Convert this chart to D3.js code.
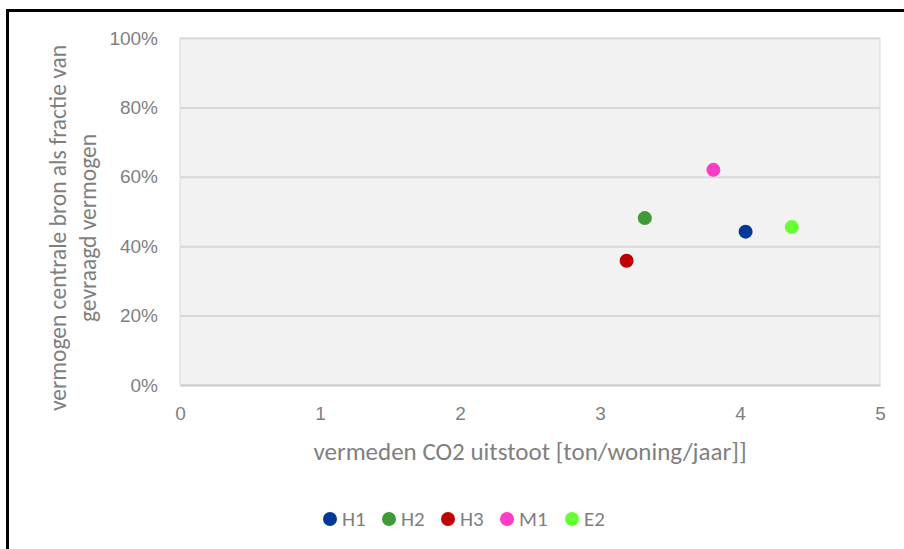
<!DOCTYPE html>
<html>
<head>
<meta charset="utf-8">
<script src="https://cdn.jsdelivr.net/npm/d3@7"></script>
<style>
  body { margin: 0; background: #fff; }
  svg { display: block; font-family: Calibri, Carlito, Lato, sans-serif; }
</style>
</head>
<body>
<div id="container"></div>
<script>
/* DATA */
const names = ["H1", "H2", "H3", "M1", "E2"]
const co2 = [4.04, 3.32, 3.19, 3.81, 4.37]
const fraction = [0.442, 0.481, 0.358, 0.620, 0.455]
const colors = ["#003896", "#3F9A38", "#C00000", "#FF3CC8", "#66FF33"]
const xTicks = [0, 1, 2, 3, 4, 5]
const yTicks = [0, 0.2, 0.4, 0.6, 0.8, 1]

/* CONSTANTS */
const width = 904,
height = 549,
margin = { top: 38, bottom: 164, left: 180, right: 24 },
radius = 7,
textColor = "#7F7F7F";

const data = names.map((d, i) => ({ name: d, x: co2[i], y: fraction[i], color: colors[i] }))

/* SCALES */
const xScale = d3.scaleLinear()
  .domain([0, 5])
  .range([margin.left, width - margin.right])

const yScale = d3.scaleLinear()
  .domain([0, 1])
  .range([height - margin.bottom, margin.top])

/* SVG */
const svg = d3.select("#container")
  .append("svg")
  .attr("width", width)
  .attr("height", height)

// outer frame (only top and left are visible)
svg.append("rect")
  .attr("x", 7.5)
  .attr("y", 10.5)
  .attr("width", 1200)
  .attr("height", 1200)
  .attr("fill", "none")
  .attr("stroke", "#000")
  .attr("stroke-width", 3)

// plot background
svg.append("rect")
  .attr("x", xScale(0))
  .attr("y", yScale(1))
  .attr("width", xScale(5) - xScale(0))
  .attr("height", yScale(0) - yScale(1))
  .attr("fill", "#F2F2F2")
  .attr("stroke", "#D9D9D9")
  .attr("stroke-width", 1)

// gridlines + y axis
const yAxis = d3.axisLeft(yScale)
  .tickValues(yTicks)
  .tickSize(-(xScale(5) - xScale(0)))
  .tickPadding(22)
  .tickFormat(d3.format(".0%"))
const gy = svg.append("g")
  .attr("transform", `translate(${margin.left},0)`)
  .call(yAxis)
gy.select(".domain").remove()
gy.selectAll(".tick line")
  .attr("stroke", "#D9D9D9")
  .attr("stroke-width", 2)
gy.selectAll(".tick text")
  .attr("fill", textColor)
  .style("font-size", "19px")

// x axis
const xAxis = d3.axisBottom(xScale)
  .tickValues(xTicks)
  .tickSize(0)
  .tickPadding(22)
  .tickFormat(d3.format("d"))
const gx = svg.append("g")
  .attr("transform", `translate(0,${height - margin.bottom})`)
  .call(xAxis)
gx.select(".domain")
  .attr("stroke", "#D0D0D0")
  .attr("stroke-width", 2)
gx.selectAll(".tick text")
  .attr("fill", textColor)
  .style("font-size", "19px")

// points
svg.selectAll("circle.pt")
  .data(data)
  .join("circle")
  .attr("class", "pt")
  .attr("cx", d => xScale(d.x))
  .attr("cy", d => yScale(d.y))
  .attr("r", radius)
  .attr("fill", d => d.color)

// axis titles
svg.append("text")
  .attr("x", (xScale(0) + xScale(5)) / 2)
  .attr("y", 460)
  .attr("text-anchor", "middle")
  .attr("fill", textColor)
  .style("font-size", "25px")
  .text("vermeden CO2 uitstoot [ton/woning/jaar]]")

const yTitle = svg.append("text")
  .attr("transform", "translate(0,228) rotate(-90)")
  .attr("text-anchor", "middle")
  .attr("fill", textColor)
  .style("font-size", "23.5px")
yTitle.append("tspan").attr("x", 0).attr("y", 66).text("vermogen centrale bron als fractie van")
yTitle.append("tspan").attr("x", 0).attr("y", 96).text("gevraagd vermogen")

/* LEGEND */
const legendX = [330, 389, 448, 507, 572]
const legend = svg.selectAll("g.legend")
  .data(data)
  .join("g")
  .attr("class", "legend")
  .attr("transform", (d, i) => `translate(${legendX[i]},519)`)
legend.append("circle")
  .attr("r", radius)
  .attr("fill", d => d.color)
legend.append("text")
  .attr("x", 12)
  .attr("y", 0)
  .attr("dy", "0.35em")
  .attr("fill", textColor)
  .style("font-size", "21px")
  .text(d => d.name)
</script>
</body>
</html>
